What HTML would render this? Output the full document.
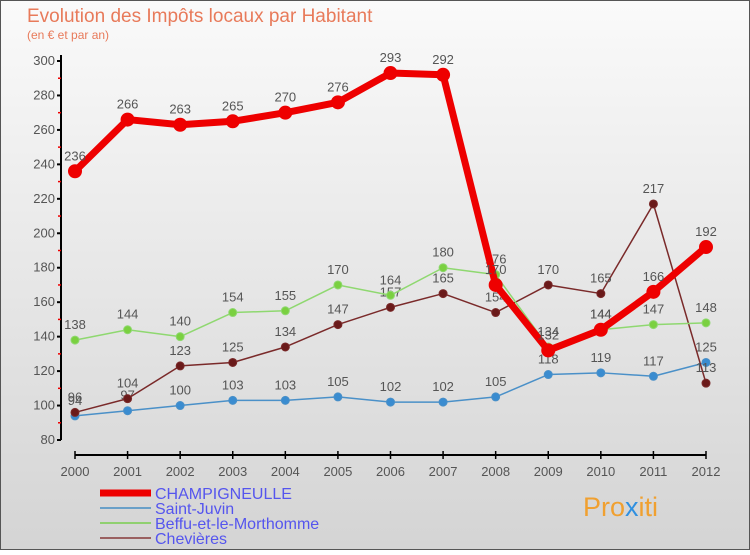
<!DOCTYPE html>
<html><head><meta charset="utf-8"><style>
body{margin:0;width:750px;height:550px;overflow:hidden;font-family:"Liberation Sans",sans-serif}
svg text{font-family:"Liberation Sans",sans-serif}
</style></head><body>
<svg id="c" width="750" height="550" xmlns="http://www.w3.org/2000/svg">
<defs><linearGradient id="bg" x1="0" y1="0" x2="0" y2="1"><stop offset="0" stop-color="#fafafa"/><stop offset="1" stop-color="#d4d4d4"/></linearGradient></defs>
<rect x="0.5" y="0.5" width="749" height="549" fill="url(#bg)" stroke="#555"/>
<text x="27" y="22" font-size="19" fill="#e87a5a">Evolution des Impôts locaux par Habitant</text>
<text x="27" y="39" font-size="12" fill="#e87a5a">(en € et par an)</text>
<g id="axes"></g><g id="series"></g><g id="legend"></g>
<text x="583" y="516" font-size="27" fill="#f0a030">Pro<tspan fill="#3090e0">x</tspan>iti</text>
</svg>
<script>
const years=[2000,2001,2002,2003,2004,2005,2006,2007,2008,2009,2010,2011,2012];
const yTicks=[80,100,120,140,160,180,200,220,240,260,280,300];
const champigneulle=[236,266,263,265,270,276,293,292,170,132,144,166,192];
const saintJuvin=[94,97,100,103,103,105,102,102,105,118,119,117,125];
const beffu=[138,144,140,154,155,170,164,180,176,134,144,147,148];
const chevieres=[96,104,123,125,134,147,157,165,154,170,165,217,113];
const NS="http://www.w3.org/2000/svg";
const X=i=>75+i*(706-75)/12;
const Y=v=>440-(v-80)*(379/220);
function mk(t,a,p){const e=document.createElementNS(NS,t);for(const k in a)e.setAttribute(k,a[k]);p.appendChild(e);return e;}
const ax=document.getElementById('axes');
let l=mk('line',{x1:61,y1:55,x2:61,y2:440,stroke:'#000','stroke-width':2},ax);


l=mk('line',{x1:75,y1:455,x2:706,y2:455,stroke:'#000','stroke-width':2},ax);


yTicks.forEach(v=>{
 mk('line',{x1:57,y1:Y(v),x2:61,y2:Y(v),stroke:'#000','stroke-width':2},ax);
 if(v<300)mk('line',{x1:58,y1:Y(v+10),x2:61,y2:Y(v+10),stroke:'#e00','stroke-width':1.5},ax);
 const t=mk('text',{x:55,y:Y(v)+4,'text-anchor':'end','font-size':13,fill:'#555'},ax);
 t.textContent=v;
 
 
});
years.forEach((y,i)=>{
 mk('line',{x1:X(i),y1:451,x2:X(i),y2:459,stroke:'#000','stroke-width':1.5},ax);
 const t=mk('text',{x:X(i),y:476,'text-anchor':'middle','font-size':13,fill:'#555'},ax);
 t.textContent=y;
 
 
});
const sg=document.getElementById('series');
function series(d,name,color,dot,w,r){
 const g=mk('g',{},sg);
 
 
 mk('polyline',{points:d.map((v,i)=>X(i)+','+Y(v)).join(' '),fill:'none',stroke:color,'stroke-width':w,'stroke-linejoin':'round'},g);
 d.forEach((v,i)=>{
  const c=mk('circle',{cx:X(i),cy:Y(v),r:r,fill:dot,stroke:color,'stroke-width':1},g);
  
  
  const t=mk('text',{x:X(i),y:Y(v)-11,'text-anchor':'middle','font-size':13,fill:'#555'},g);
  t.textContent=v;
  
  
 });
}
series(saintJuvin,'saint-juvin-series','#4a90c8','#3a8cd0',1.5,4);
series(chevieres,'chevieres-series','#7a2a2a','#6a1a1a',1.5,4);
series(beffu,'beffu-series','#8fd870','#7ad040',1.5,4);
series(champigneulle,'champigneulle-series','#ee0000','#ee0000',7,6.5);
const lg=document.getElementById('legend');
[['CHAMPIGNEULLE','#ee0000',7],['Saint-Juvin','#6aa0c8',2],['Beffu-et-le-Morthomme','#90d070',2],['Chevières','#9a6060',2]].forEach((e,i)=>{
 const y=493+i*15;
 const g=mk('g',{},lg);
 
 
 mk('line',{x1:100,y1:y,x2:151,y2:y,stroke:e[1],'stroke-width':e[2]},g);
 const t=mk('text',{x:155,y:y+6,'font-size':16,fill:'#5555ee'},g);
 t.textContent=e[0];
});
</script>
</body></html>
